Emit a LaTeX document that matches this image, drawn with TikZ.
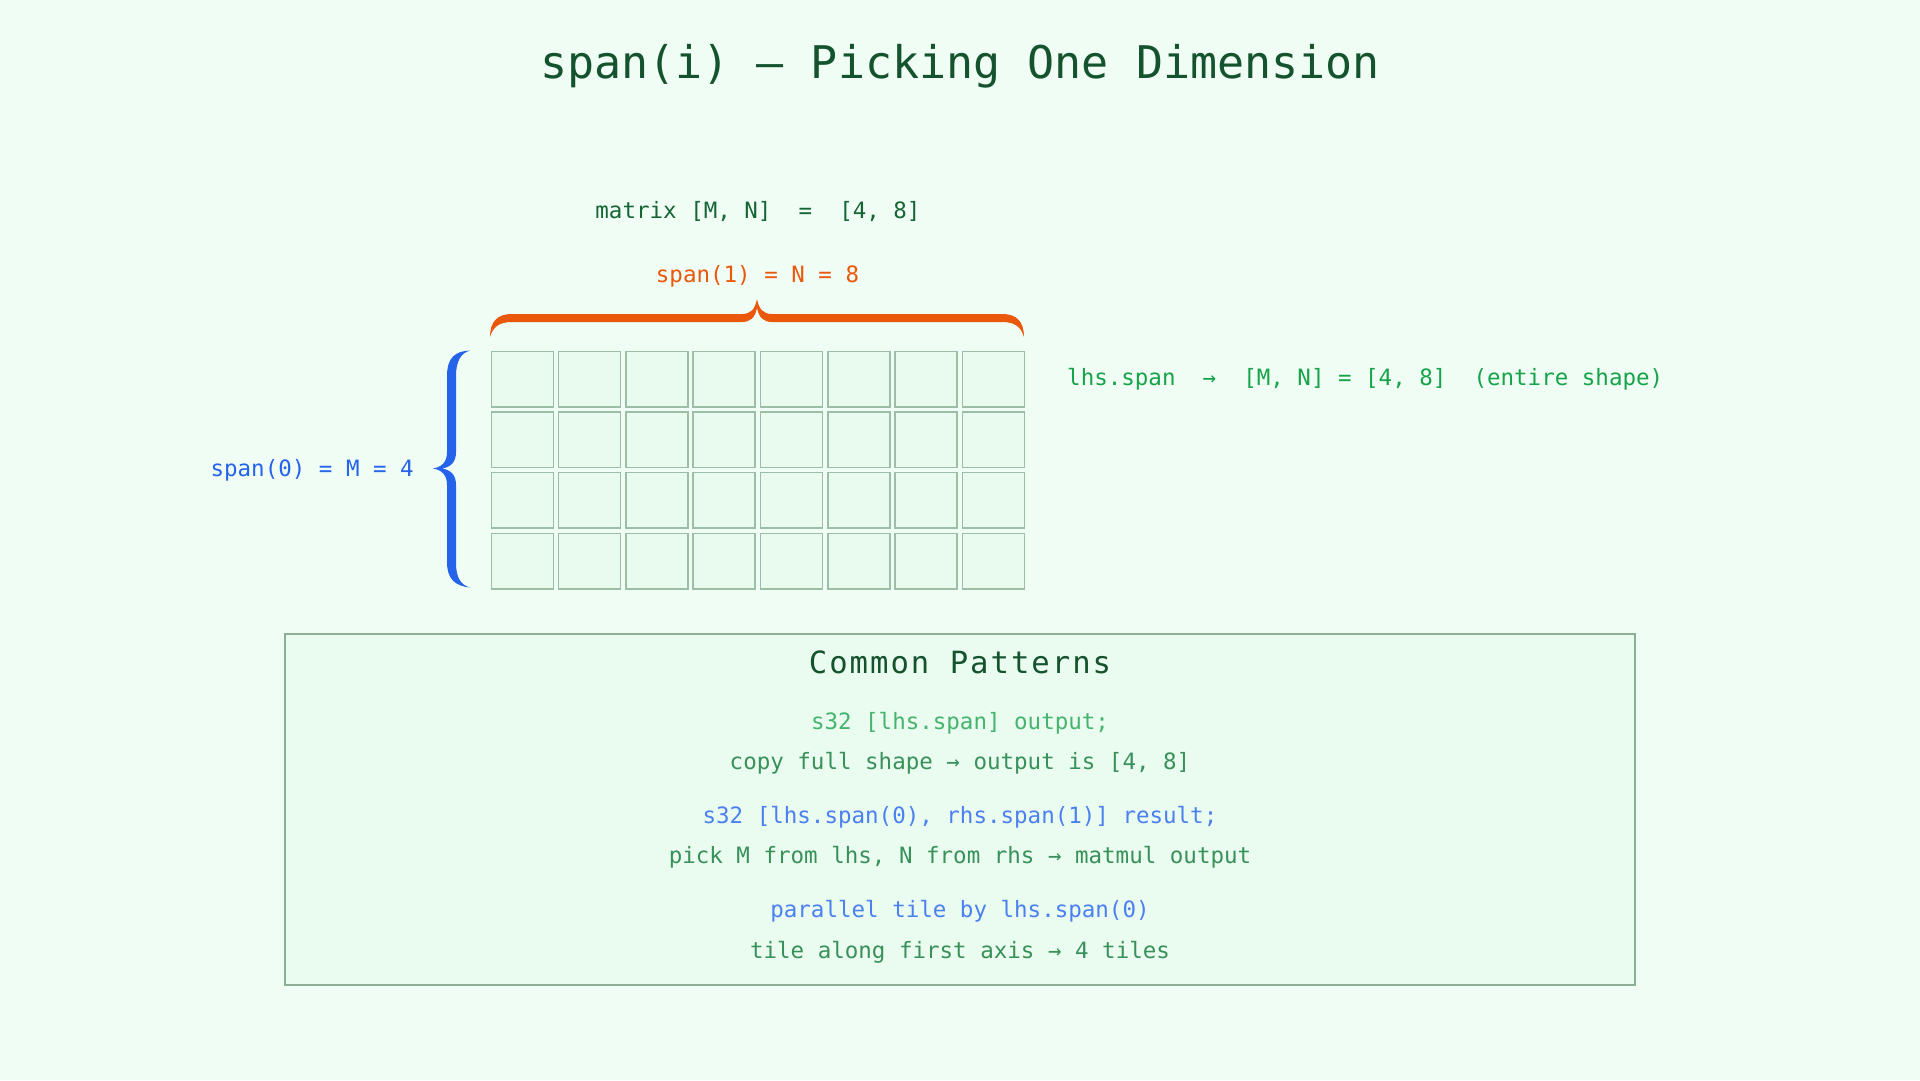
\documentclass[tikz,border=0pt]{standalone}
\usepackage{fontspec}
\newfontfamily\mono{DejaVu Sans Mono}
\newfontfamily\monosp[LetterSpace=6.5]{DejaVu Sans Mono}
\definecolor{bg}{HTML}{F0FDF4}
\definecolor{titlec}{HTML}{14532D}
\definecolor{matc}{HTML}{166534}
\definecolor{orangec}{HTML}{EA580C}
\definecolor{bluec}{HTML}{2563EB}
\definecolor{greenc}{HTML}{16A34A}
\definecolor{cellfill}{HTML}{E9FAEE}
\definecolor{cellline}{HTML}{9CBEA6}
\definecolor{boxfill}{HTML}{EAFBEF}
\definecolor{boxline}{HTML}{8FAE98}
\definecolor{codegreen}{HTML}{46B46E}
\definecolor{notegreen}{HTML}{38915A}
\definecolor{codeblue}{HTML}{4A80F0}
\begin{document}
\begin{tikzpicture}[x=1pt,y=-1pt,
  txt/.style={inner sep=0pt, anchor=base, font=\mono\fontsize{22.5}{27}\selectfont},
  cell/.style={draw=cellline, fill=cellfill, line width=1.5pt, inner sep=0pt,
    minimum width=62pt, minimum height=55.5pt, anchor=north west},
  patbox/.style={draw=boxline, fill=boxfill, line width=1.5pt}]
\useasboundingbox (0,0) rectangle (1920,1080);
\fill[bg] (0,0) rectangle (1920,1080);

% title
\node[inner sep=0pt, anchor=base, font=\mono\fontsize{45}{52}\selectfont, text=titlec] (title) at (960,78) {span(i) — Picking One Dimension};

% matrix label
\node[txt, text=matc] (matlbl) at (758,218) {matrix [M, N]~~=~~[4, 8]};
\node[txt, text=orangec] (span1) at (757.5,282) {span(1) = N = 8};

% orange brace
\fill[orangec] (490,337)
  .. controls (490,322) and (497,314) .. (512,314)
  -- (742,314)
  .. controls (751,314) and (755,309) .. (757,299)
  .. controls (759,309) and (763,314) .. (772,314)
  -- (1002,314)
  .. controls (1017,314) and (1024,322) .. (1024,337)
  .. controls (1021,327) and (1015,322) .. (1002,322)
  -- (772,322)
  .. controls (764,322) and (759,318) .. (757,308)
  .. controls (755,318) and (750,322) .. (742,322)
  -- (512,322)
  .. controls (499,322) and (493,327) .. (490,337) -- cycle;

% blue brace
\fill[bluec] (470,350.5)
  .. controls (455,351) and (447,358) .. (447,376)
  -- (447,452)
  .. controls (447,462) and (442,467) .. (433,468.5)
  .. controls (442,470) and (447,475) .. (447,485)
  -- (447,562)
  .. controls (447,579) and (455,586) .. (470,587.5)
  .. controls (461,585) and (456,578) .. (456,563)
  -- (456,485)
  .. controls (456,475) and (451,470) .. (442,468.5)
  .. controls (451,467) and (456,462) .. (456,452)
  -- (456,376)
  .. controls (456,361) and (461,353) .. (470,350.5) -- cycle;

\node[txt, anchor=base east, text=bluec] (span0) at (414,476) {span(0) = M = 4};

% grid
\foreach \i in {0,...,7}{
  \foreach \j in {0,...,3}{
    \node[cell] (c\i\j) at ({490.5+67.3*\i},{350.5+60.7*\j}) {};
  }
}

\node[txt, anchor=base west, text=greenc] (lhs) at (1067,385) {lhs.span~~→~~[M, N] = [4, 8]~~(entire shape)};

% patterns box
\draw[patbox] (285,634) rectangle (1635,985);
\node[inner sep=0pt, anchor=base, font=\monosp\fontsize{30.6}{36}\selectfont, text=titlec] (pt) at (960,673) {Common Patterns};
\node[txt, text=codegreen] (p1) at (960,729) {s32 [lhs.span] output;};
\node[txt, text=notegreen] (p2) at (960,769) {copy full shape → output is [4, 8]};
\node[txt, text=codeblue] (p3) at (960,823) {s32 [lhs.span(0), rhs.span(1)] result;};
\node[txt, text=notegreen] (p4) at (960,863) {pick M from lhs, N from rhs → matmul output};
\node[txt, text=codeblue] (p5) at (960,917) {parallel tile by lhs.span(0)};
\node[txt, text=notegreen] (p6) at (960,958) {tile along first axis → 4 tiles};
\end{tikzpicture}
\end{document}
